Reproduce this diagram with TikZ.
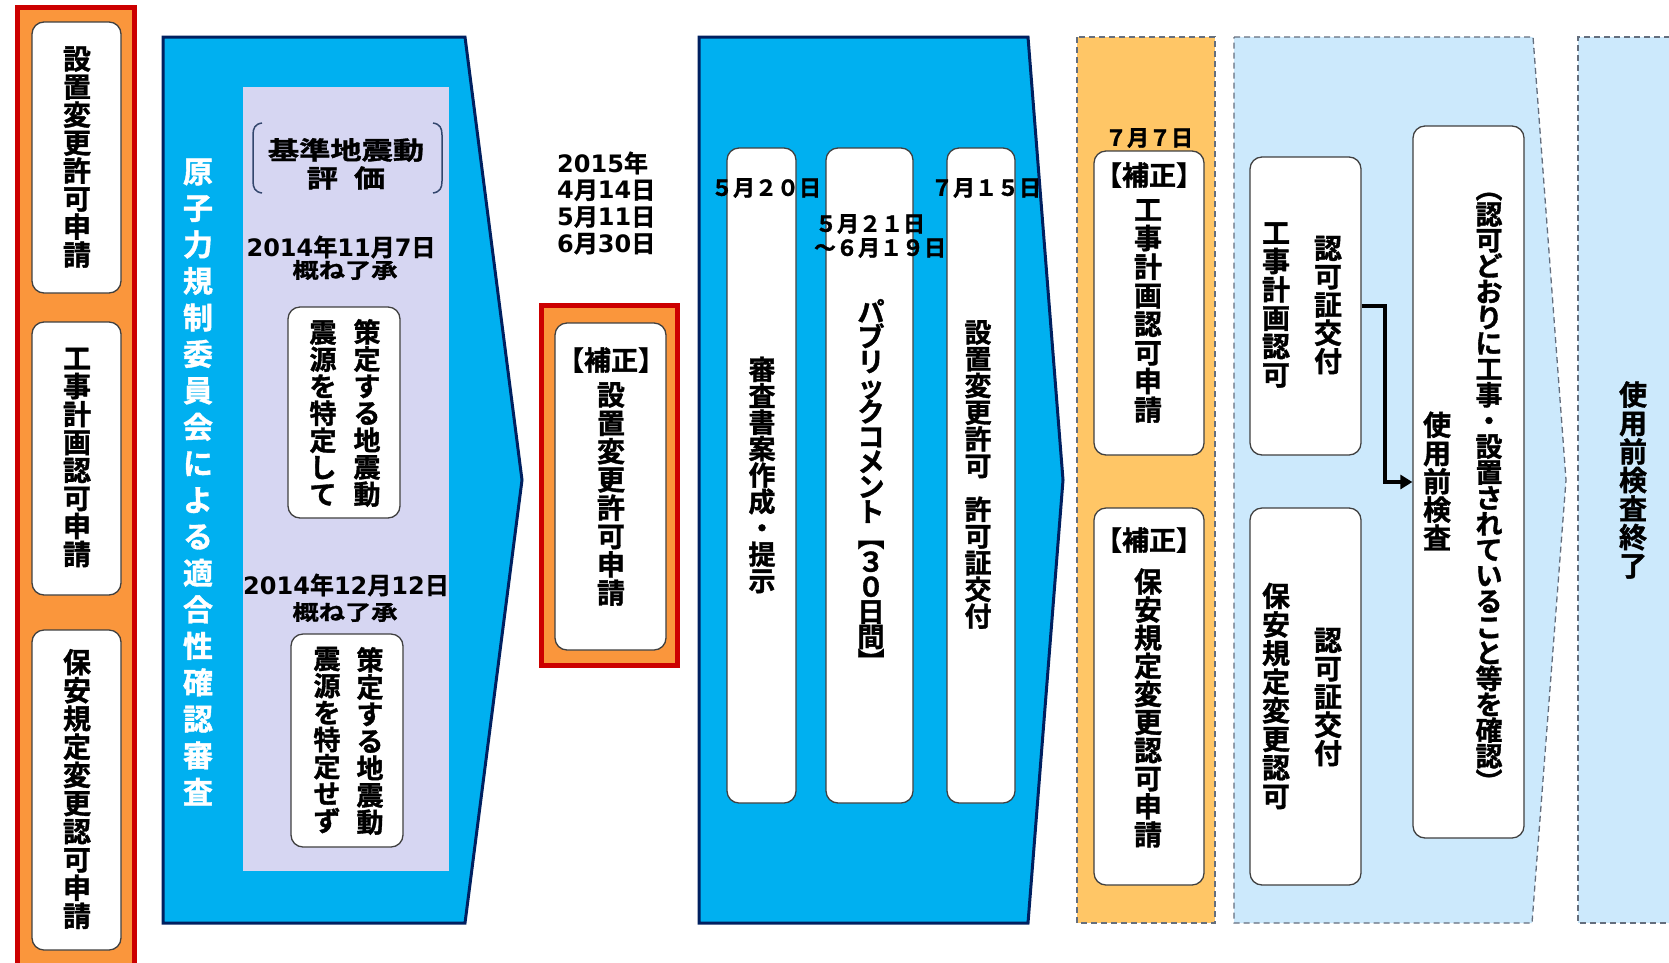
\documentclass[tikz,border=0pt]{standalone}
\usepackage{fontspec}
\usepackage{graphicx}
\usetikzlibrary{arrows.meta,calc}
\newfontfamily\jp{Noto Sans CJK JP}[UprightFont=* Bold,FakeBold=1.3]
\newfontfamily\jpw{Noto Sans CJK JP}[UprightFont=* Bold,FakeStretch=1.25,FakeBold=1.3]
\newfontfamily\dvb{DejaVu Sans}[UprightFont=* Bold]
\definecolor{lorg}{RGB}{250,150,60}
\definecolor{redb}{RGB}{204,0,0}
\definecolor{cyanf}{RGB}{0,176,240}
\definecolor{navy}{RGB}{0,32,96}
\definecolor{lav}{RGB}{214,214,242}
\definecolor{porg}{RGB}{255,198,102}
\definecolor{lblue}{RGB}{204,233,252}
\definecolor{dashc}{RGB}{100,110,125}
\newcommand\dn[1]{{\dvb #1}}
\newcommand\rb[1]{\rotatebox[origin=c]{-90}{#1}}
\newcommand\vgap{\relax}
\makeatletter
\def\vt@gapmark{\vgap}
\newcommand\vt[3][28]{\fontsize{#1pt}{#2pt}\selectfont
  \vbox{\baselineskip=#2pt\lineskiplimit=-1000pt\lineskip=0pt
  \@tfor\vt@c:=#3\do{\ifx\vt@c\vt@gapmark\vskip17pt\else\hbox to 1em{\hss\vt@c\hss}\fi}}}
\makeatother
\begin{document}
\begin{tikzpicture}[x=1pt,y=-1pt,
  wbox/.style={draw=black!75, fill=white, rounded corners=12pt, line width=1.3pt, inner sep=0pt},
  vtxt/.style={inner sep=0pt, font=\jp, text=black},
  htxt/.style={inner sep=0pt, font=\jp\fontsize{22pt}{24pt}\selectfont, text=black},
  bigarrow/.style={draw=navy, line width=3pt, fill=cyanf, line join=miter},
  dpanel/.style={draw=dashc, line width=1.3pt, dash pattern=on 6pt off 4pt},
  redpanel/.style={draw=redb, line width=5pt, fill=lorg},
  brk/.style={draw=navy!60!gray, line width=1.5pt},
  conn/.style={line width=4pt, line join=miter, -{Triangle[length=12pt,width=14pt]}}]
\useasboundingbox (0,0) rectangle (1669,962);
\clip (0,0) rectangle (1669,962);
\fill[white] (0,0) rectangle (1669,962);

% left column
\draw[redpanel] (17.5,7.5) rectangle (134.5,990);
\node[wbox, minimum width=89pt, minimum height=271pt] (L1) at (76.5,157.5) {};
\node[wbox, minimum width=89pt, minimum height=273pt] (L2) at (76.5,458.5) {};
\node[wbox, minimum width=89pt, minimum height=320pt] (L3) at (76.5,790) {};
\node[vtxt] (L1t) at (77,157) {\vt{28}{設置変更許可申請}};
\node[vtxt] (L2t) at (77,457.5) {\vt{28}{工事計画認可申請}};
\node[vtxt] (L3t) at (77,789) {\vt{28.2}{保安規定変更認可申請}};

% arrow 1
\draw[bigarrow] (163,37) -- (465,37) -- (522,480) -- (465,923) -- (163,923) -- cycle;
\fill[lav] (243,87) rectangle (449,871);
\node[vtxt, text=white] (A1t) at (198,482) {\vt[30]{36.5}{原子力規制委員会による適合性確認審査}};
\draw[brk] (262,123) .. controls (255,124) and (253,128) .. (253,135) -- (253,181) .. controls (253,188) and (255,192) .. (262,193);
\draw[brk] (433,123) .. controls (440,124) and (442,128) .. (442,135) -- (442,181) .. controls (442,188) and (440,192) .. (433,193);
\node[htxt, font=\jpw\fontsize{25pt}{26pt}\selectfont] (kj1) at (346,150) {基準地震動};
\node[htxt, font=\jpw\fontsize{25pt}{26pt}\selectfont] (kj2) at (346,178) {評\hspace{16pt}価};
\node[htxt, font=\jp\fontsize{24pt}{28pt}\selectfont] (d1) at (341,247) {\dn{2014}年\dn{11}月\dn{7}日};
\node[htxt, font=\jpw\fontsize{21pt}{24pt}\selectfont] (ok1) at (345,270) {概ね了承};
\node[wbox, minimum width=112pt, minimum height=211pt] (S1) at (344,412.5) {};
\node[vtxt] (S1r) at (367,413) {\vt[27]{27}{策定する地震動}};
\node[vtxt] (S1l) at (323,413) {\vt[27]{27}{震源を特定して}};
\node[htxt, font=\jp\fontsize{24pt}{28pt}\selectfont] (d2) at (346,585) {\dn{2014}年\dn{12}月\dn{12}日};
\node[htxt, font=\jpw\fontsize{21pt}{24pt}\selectfont] (ok2) at (345,612) {概ね了承};
\node[wbox, minimum width=112pt, minimum height=213pt] (S2) at (347,740.5) {};
\node[vtxt] (S2r) at (370,741) {\vt[27]{27}{策定する地震動}};
\node[vtxt] (S2l) at (327,740) {\vt[27]{27}{震源を特定せず}};

% middle
\node[htxt, align=left, anchor=west, font=\jp\fontsize{24pt}{26.7pt}\selectfont] (d15) at (557,203) {\dn{2015}年\\\dn{4}月\dn{14}日\\\dn{5}月\dn{11}日\\\dn{6}月\dn{30}日};
\draw[redpanel] (541.5,305.5) rectangle (677.5,665.5);
\node[wbox, minimum width=111pt, minimum height=327pt] (M) at (610.5,486.5) {};
\node[htxt, font=\jp\fontsize{27pt}{28pt}\selectfont] (Mh) at (611,360) {【補正】};
\node[vtxt] (Mt) at (611,494) {\vt{28.3}{設置変更許可申請}};

% arrow 2
\draw[bigarrow] (699,37) -- (1028,37) -- (1063,480) -- (1028,923) -- (699,923) -- cycle;
\node[wbox, minimum width=69pt, minimum height=655pt] (BA) at (761.5,475.5) {};
\node[wbox, minimum width=87pt, minimum height=655pt] (BB) at (869.5,475.5) {};
\node[wbox, minimum width=68pt, minimum height=655pt] (BC) at (981,475.5) {};
\node[vtxt] (BAt) at (762,475) {\vt[27]{26.4}{審査書案作成・提示}};
\node[vtxt] (BBt) at (871,487) {\vt[27]{25}{パブリックコメント{\rb【}３０日間{\rb】}}};
\node[vtxt] (BCt) at (978,474.5) {\vt[27]{26.7}{設置変更許可\vgap 許可証交付}};
\node[htxt] (dA) at (766,188) {５月２０日};
\node[htxt] (dC) at (986,188) {７月１５日};
\node[htxt] (dB1) at (870,224) {５月２１日};
\node[htxt] (dB2) at (880,248) {～６月１９日};

% orange dashed column
\draw[dpanel, fill=porg] (1077,37) rectangle (1215,923);
\node[htxt] (d77) at (1149,138) {７月７日};
\node[wbox, minimum width=110pt, minimum height=304pt] (R1) at (1149,303) {};
\node[wbox, minimum width=110pt, minimum height=377pt] (R2) at (1149,696.5) {};
\node[htxt, font=\jp\fontsize{27pt}{28pt}\selectfont] (R1h) at (1149,175) {【補正】};
\node[htxt, font=\jp\fontsize{27pt}{28pt}\selectfont] (R2h) at (1149,540) {【補正】};
\node[vtxt] (R1t) at (1148,311) {\vt{28.6}{工事計画認可申請}};
\node[vtxt] (R2t) at (1148,708) {\vt{28.1}{保安規定変更認可申請}};

% light blue panel
\draw[dpanel, fill=lblue] (1234,37) -- (1533,37) -- (1566,480) -- (1532,923) -- (1234,923) -- cycle;
\node[wbox, minimum width=111pt, minimum height=298pt] (K1) at (1305.5,306) {};
\node[wbox, minimum width=111pt, minimum height=377pt] (K2) at (1305.5,696.5) {};
\node[vtxt] (K1l) at (1276,305) {\vt{28.4}{工事計画認可}};
\node[vtxt] (K1r) at (1328,305) {\vt{28.25}{認可証交付}};
\node[vtxt] (K2l) at (1276,696) {\vt{28.6}{保安規定変更認可}};
\node[vtxt] (K2r) at (1328,697) {\vt{28.25}{認可証交付}};
\node[wbox, minimum width=111pt, minimum height=712pt] (INS) at (1468.5,482) {};
\node[vtxt] (INSl) at (1437,481) {\vt{28.25}{使用前検査}};
\node[vtxt] (INSr) at (1489,485) {\vt[27]{25.8}{{\rb（}認可どおりに工事・設置されていること等を確認{\rb）}}};
\coordinate (bend) at (1385,306);
\draw[conn] (K1.east) -- (bend) |- (INS.west);

% far right panel
\draw[dpanel, fill=lblue] (1700,37) -- (1578,37) -- (1578,923) -- (1700,923);
\node[vtxt] (FRt) at (1633,480) {\vt{28.5}{使用前検査終了}};
\end{tikzpicture}
\end{document}
